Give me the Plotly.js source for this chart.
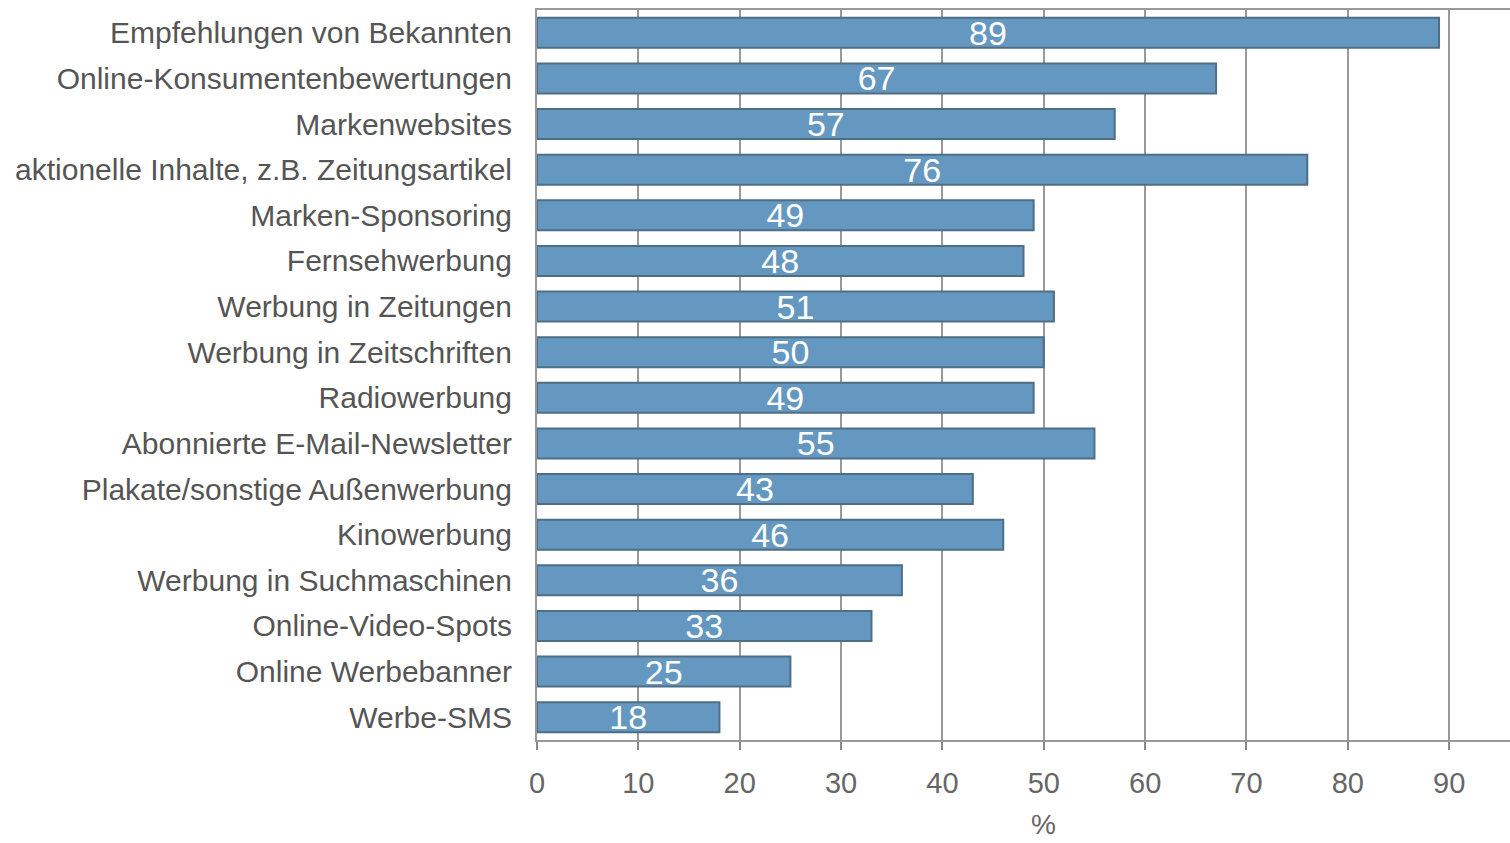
<!DOCTYPE html>
<html>
<head>
<meta charset="utf-8">
<script src="https://cdn.plot.ly/plotly-3.0.1.min.js"></script>
<style>html,body{margin:0;padding:0;background:#fff;}#chart{width:1510px;height:843px;}</style>
</head>
<body>
<div id="chart"></div>
<script>
const categories = [
  "Empfehlungen von Bekannten",
  "Online-Konsumentenbewertungen",
  "Markenwebsites",
  "aktionelle Inhalte, z.B. Zeitungsartikel",
  "Marken-Sponsoring",
  "Fernsehwerbung",
  "Werbung in Zeitungen",
  "Werbung in Zeitschriften",
  "Radiowerbung",
  "Abonnierte E-Mail-Newsletter",
  "Plakate/sonstige Außenwerbung",
  "Kinowerbung",
  "Werbung in Suchmaschinen",
  "Online-Video-Spots",
  "Online Werbebanner",
  "Werbe-SMS"
];
const values = [89, 67, 57, 76, 49, 48, 51, 50, 49, 55, 43, 46, 36, 33, 25, 18];
const xTicks = [0, 10, 20, 30, 40, 50, 60, 70, 80, 90];
const xTitle = '%';

const trace = {
  type: 'bar',
  orientation: 'h',
  y: categories,
  x: values,
  text: values.map(String),
  textposition: 'inside',
  insidetextanchor: 'middle',
  constraintext: 'none',
  textangle: 0,
  textfont: {family: 'Liberation Sans, Arial, sans-serif', size: 34, color: '#ffffff'},
  marker: {color: '#6598c0', line: {color: '#4e6e86', width: 2}},
  hoverinfo: 'none',
  cliponaxis: false
};

const layout = {
  width: 1510,
  height: 843,
  margin: {l: 537, r: 0, t: 10, b: 103},
  paper_bgcolor: '#ffffff',
  plot_bgcolor: '#ffffff',
  bargap: 0.34,
  showlegend: false,
  font: {family: 'Liberation Sans, Arial, sans-serif', color: '#555555'},
  xaxis: {
    range: [0, 96],
    tickvals: xTicks,
    ticktext: xTicks.map(String),
    showgrid: true,
    gridcolor: '#999999',
    gridwidth: 2,
    showline: true,
    mirror: true,
    linecolor: '#999999',
    linewidth: 2,
    ticks: 'outside',
    ticklen: 8,
    tickwidth: 2,
    tickcolor: '#888888',
    zeroline: false,
    ticklabelstandoff: 8,
    tickfont: {size: 29, color: '#666666'}
  },
  yaxis: {
    autorange: 'reversed',
    type: 'category',
    showline: true,
    linecolor: '#999999',
    linewidth: 2,
    showgrid: false,
    zeroline: false,
    ticks: '',
    ticklabelstandoff: 17,
    tickfont: {size: 30, color: '#555555'}
  },
  annotations: [{
    text: xTitle,
    xref: 'x', x: 50,
    yref: 'paper', y: 0,
    xanchor: 'center', yanchor: 'middle',
    yshift: -84,
    showarrow: false,
    font: {size: 28, color: '#666666'}
  }]
};

Plotly.newPlot('chart', [trace], layout, {staticPlot: true, displayModeBar: false});
</script>
</body>
</html>
